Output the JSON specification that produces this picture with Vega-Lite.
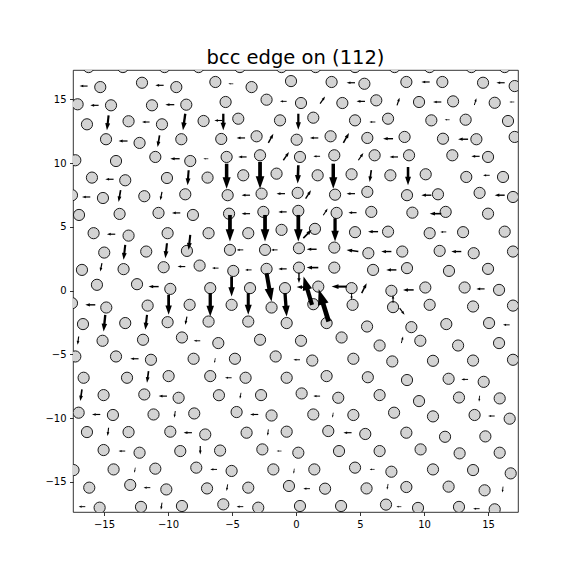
{
"$schema": "https://vega.github.io/schema/vega-lite/v6.json",
"width": 445, "height": 442,
"autosize": {"type": "none"},
"padding": {"left": 73, "top": 70, "right": 58, "bottom": 64},
"background": "white",
"config": {"view": {"stroke": "black", "strokeWidth": 0.8}},
"title": {"text": "bcc edge on (112)", "font": "DejaVu Sans", "fontSize": 19.5, "fontWeight": "normal", "color": "black", "frame": "group", "anchor": "middle", "offset": -13, "baseline": "alphabetic"},
"datasets": {
"atoms": [
{"x":-16.20,"y":17.53},{"x":-13.52,"y":17.53},{"x":-10.27,"y":17.53},{"x":-7.61,"y":17.53},{"x":-4.38,"y":17.53},{"x":-1.13,"y":17.53},{"x":1.53,"y":17.53},{"x":4.61,"y":17.53},{"x":7.70,"y":17.53},{"x":10.44,"y":17.53},{"x":13.70,"y":17.53},{"x":16.30,"y":17.53},
{"x":-15.29,"y":15.96},{"x":-12.03,"y":16.30},{"x":-9.35,"y":15.96},{"x":-6.30,"y":16.36},{"x":-3.47,"y":15.96},{"x":-0.39,"y":16.43},{"x":2.78,"y":16.36},{"x":5.34,"y":16.22},{"x":8.62,"y":16.36},{"x":11.43,"y":16.36},{"x":14.61,"y":16.30},{"x":17.08,"y":16.04},
{"x":-17.06,"y":14.61},{"x":-14.45,"y":14.53},{"x":-11.25,"y":14.53},{"x":-8.57,"y":14.58},{"x":-5.50,"y":14.79},{"x":-2.30,"y":14.97},{"x":0.39,"y":14.71},{"x":3.62,"y":14.71},{"x":6.27,"y":14.92},{"x":9.61,"y":14.79},{"x":12.27,"y":14.84},{"x":15.52,"y":14.73},
{"x":-16.33,"y":13.04},{"x":-13.08,"y":13.28},{"x":-10.47,"y":13.04},{"x":-7.22,"y":13.30},{"x":-4.51,"y":13.48},{"x":-1.25,"y":13.35},{"x":1.35,"y":13.56},{"x":4.61,"y":13.35},{"x":7.19,"y":13.48},{"x":10.57,"y":13.35},{"x":13.25,"y":13.40},{"x":16.56,"y":13.30},
{"x":-14.84,"y":11.87},{"x":-12.22,"y":11.58},{"x":-8.96,"y":11.87},{"x":-5.84,"y":11.89},{"x":-3.08,"y":12.10},{"x":0.05,"y":11.83},{"x":2.70,"y":12.10},{"x":5.57,"y":11.97},{"x":8.48,"y":12.05},{"x":11.48,"y":11.91},{"x":14.09,"y":11.87},{"x":17.08,"y":12.05},
{"x":-17.24,"y":10.22},{"x":-14.06,"y":10.16},{"x":-10.99,"y":10.48},{"x":-8.26,"y":10.16},{"x":-5.42,"y":10.48},{"x":-2.81,"y":10.61},{"x":0.31,"y":10.48},{"x":2.99,"y":10.61},{"x":6.14,"y":10.61},{"x":8.83,"y":10.61},{"x":12.21,"y":10.61},{"x":15.00,"y":10.48},
{"x":-15.94,"y":8.86},{"x":-13.34,"y":8.65},{"x":-10.08,"y":8.83},{"x":-6.91,"y":8.86},{"x":-4.12,"y":9.04},{"x":-1.52,"y":9.17},{"x":1.69,"y":9.04},{"x":4.34,"y":9.12},{"x":7.37,"y":9.04},{"x":10.13,"y":9.12},{"x":13.30,"y":8.91},{"x":16.17,"y":8.91},
{"x":-17.50,"y":7.48},{"x":-15.08,"y":7.26},{"x":-11.85,"y":7.40},{"x":-8.65,"y":7.55},{"x":-5.34,"y":7.48},{"x":-2.69,"y":7.60},{"x":0.13,"y":7.66},{"x":3.05,"y":7.52},{"x":5.57,"y":7.74},{"x":8.67,"y":7.48},{"x":11.09,"y":7.55},{"x":14.34,"y":7.66},{"x":16.95,"y":7.34},
{"x":-16.95,"y":5.93},{"x":-13.78,"y":6.01},{"x":-10.74,"y":6.09},{"x":-8.05,"y":5.93},{"x":-5.23,"y":6.03},{"x":-2.55,"y":6.17},{"x":0.18,"y":6.25},{"x":3.17,"y":6.09},{"x":5.88,"y":6.17},{"x":9.09,"y":6.11},{"x":11.69,"y":6.17},{"x":15.00,"y":6.03},
{"x":-15.81,"y":4.50},{"x":-13.08,"y":4.31},{"x":-10.03,"y":4.50},{"x":-6.83,"y":4.50},{"x":-3.73,"y":4.50},{"x":-1.13,"y":4.76},{"x":1.48,"y":4.84},{"x":4.61,"y":4.58},{"x":7.19,"y":4.62},{"x":10.44,"y":4.50},{"x":13.05,"y":4.58},{"x":16.30,"y":4.62},
{"x":-14.98,"y":2.98},{"x":-11.70,"y":3.06},{"x":-8.52,"y":3.11},{"x":-5.16,"y":3.19},{"x":-2.42,"y":3.19},{"x":0.23,"y":3.32},{"x":2.99,"y":3.37},{"x":5.65,"y":2.93},{"x":8.30,"y":3.06},{"x":11.22,"y":3.11},{"x":13.88,"y":2.93},{"x":16.95,"y":3.06},
{"x":-16.72,"y":1.62},{"x":-13.47,"y":1.68},{"x":-10.34,"y":1.83},{"x":-7.53,"y":1.96},{"x":-4.90,"y":1.54},{"x":-2.30,"y":1.70},{"x":0.23,"y":1.80},{"x":2.99,"y":1.80},{"x":6.02,"y":1.62},{"x":8.67,"y":1.76},{"x":11.95,"y":1.54},{"x":15.00,"y":1.70},
{"x":-15.55,"y":0.45},{"x":-12.42,"y":0.50},{"x":-9.82,"y":0.13},{"x":-6.70,"y":0.19},{"x":-3.59,"y":0.19},{"x":-0.86,"y":0.19},{"x":1.74,"y":0.31},{"x":4.34,"y":0.19},{"x":7.45,"y":-0.02},{"x":10.10,"y":0.24},{"x":13.17,"y":0.24},{"x":15.86,"y":0.05},
{"x":-17.50,"y":-0.99},{"x":-14.82,"y":-1.33},{"x":-11.59,"y":-1.18},{"x":-8.31,"y":-1.12},{"x":-5.03,"y":-1.12},{"x":-1.91,"y":-1.33},{"x":1.35,"y":-1.07},{"x":4.42,"y":-1.12},{"x":7.58,"y":-1.30},{"x":10.44,"y":-1.12},{"x":13.83,"y":-1.25},{"x":16.95,"y":-1.18},
{"x":-16.64,"y":-2.63},{"x":-13.34,"y":-2.55},{"x":-10.03,"y":-2.48},{"x":-6.83,"y":-2.43},{"x":-3.73,"y":-2.43},{"x":-0.73,"y":-2.55},{"x":2.39,"y":-2.55},{"x":5.55,"y":-2.82},{"x":9.01,"y":-2.87},{"x":11.74,"y":-2.63},{"x":15.08,"y":-2.55},
{"x":-15.11,"y":-3.94},{"x":-11.95,"y":-3.86},{"x":-8.91,"y":-3.68},{"x":-6.07,"y":-4.12},{"x":-2.81,"y":-3.86},{"x":0.39,"y":-3.94},{"x":3.56,"y":-3.68},{"x":6.53,"y":-4.31},{"x":9.71,"y":-3.94},{"x":12.66,"y":-4.31},{"x":15.86,"y":-4.12},
{"x":-17.24,"y":-5.17},{"x":-14.06,"y":-5.17},{"x":-11.33,"y":-5.43},{"x":-8.00,"y":-5.35},{"x":-4.77,"y":-5.35},{"x":-1.59,"y":-5.17},{"x":1.27,"y":-5.49},{"x":4.48,"y":-5.35},{"x":7.52,"y":-5.56},{"x":10.70,"y":-5.51},{"x":13.83,"y":-5.49},{"x":16.95,"y":-5.43},
{"x":-16.59,"y":-6.84},{"x":-13.20,"y":-6.84},{"x":-9.95,"y":-6.71},{"x":-6.70,"y":-6.71},{"x":-3.94,"y":-6.84},{"x":-0.73,"y":-6.84},{"x":2.39,"y":-6.71},{"x":5.61,"y":-6.80},{"x":8.67,"y":-7.02},{"x":11.92,"y":-6.92},{"x":14.66,"y":-7.16},
{"x":-15.03,"y":-8.20},{"x":-11.85,"y":-8.15},{"x":-9.17,"y":-8.41},{"x":-6.02,"y":-8.21},{"x":-2.73,"y":-8.20},{"x":0.44,"y":-8.07},{"x":3.30,"y":-8.41},{"x":6.53,"y":-8.20},{"x":9.61,"y":-8.67},{"x":12.73,"y":-8.39},{"x":15.91,"y":-8.46},
{"x":-16.98,"y":-9.58},{"x":-14.30,"y":-9.76},{"x":-11.13,"y":-9.72},{"x":-7.95,"y":-9.64},{"x":-4.64,"y":-9.53},{"x":-1.91,"y":-9.80},{"x":1.35,"y":-9.72},{"x":4.48,"y":-9.76},{"x":7.66,"y":-9.58},{"x":10.70,"y":-9.87},{"x":13.95,"y":-9.76},{"x":16.69,"y":-10.05},
{"x":-16.33,"y":-11.10},{"x":-13.08,"y":-11.10},{"x":-9.82,"y":-11.07},{"x":-7.09,"y":-11.29},{"x":-3.86,"y":-11.15},{"x":-0.73,"y":-11.07},{"x":2.52,"y":-11.02},{"x":5.41,"y":-11.25},{"x":8.62,"y":-11.15},{"x":11.64,"y":-11.47},{"x":14.79,"y":-11.44},
{"x":-15.03,"y":-12.51},{"x":-12.22,"y":-12.72},{"x":-9.04,"y":-12.59},{"x":-5.93,"y":-12.55},{"x":-2.63,"y":-12.46},{"x":0.18,"y":-12.72},{"x":3.36,"y":-12.59},{"x":6.53,"y":-12.59},{"x":9.73,"y":-12.46},{"x":12.78,"y":-12.77},{"x":15.91,"y":-12.72},
{"x":-17.38,"y":-14.08},{"x":-14.25,"y":-14.03},{"x":-10.99,"y":-13.97},{"x":-7.79,"y":-13.89},{"x":-5.03,"y":-14.15},{"x":-1.77,"y":-14.03},{"x":1.43,"y":-14.03},{"x":4.61,"y":-13.89},{"x":7.45,"y":-14.21},{"x":10.70,"y":-14.03},{"x":13.83,"y":-14.08},{"x":16.77,"y":-14.34},
{"x":-16.15,"y":-15.46},{"x":-12.95,"y":-15.25},{"x":-10.13,"y":-15.60},{"x":-6.95,"y":-15.52},{"x":-3.73,"y":-15.46},{"x":-0.55,"y":-15.33},{"x":2.27,"y":-15.54},{"x":5.51,"y":-15.52},{"x":8.62,"y":-15.41},{"x":11.92,"y":-15.38},{"x":14.73,"y":-15.67},
{"x":-15.34,"y":-17.03},{"x":-12.11,"y":-16.97},{"x":-8.91,"y":-16.90},{"x":-5.68,"y":-16.77},{"x":-2.95,"y":-17.03},{"x":0.31,"y":-16.90},{"x":3.52,"y":-16.90},{"x":7.03,"y":-16.79},{"x":9.53,"y":-17.05},{"x":12.73,"y":-16.97},{"x":15.52,"y":-17.16}
],
"arrows": [
{"x":-16.28,"y":16.04,"x2":-16.91,"y2":16.04},{"x":-10.34,"y":16.10,"x2":-10.99,"y2":16.10},{"x":-15.42,"y":14.53,"x2":-16.07,"y2":14.53},{"x":-9.51,"y":14.58,"x2":-10.21,"y2":14.58},
{"x":-14.64,"y":13.75,"x2":-14.77,"y2":12.57},{"x":-11.44,"y":13.22,"x2":-12.03,"y2":13.22},{"x":-8.65,"y":13.87,"x2":-8.83,"y2":12.57},{"x":-13.16,"y":11.73,"x2":-13.86,"y2":11.73},
{"x":-10.66,"y":12.18,"x2":-10.81,"y2":11.26},{"x":-9.09,"y":10.34,"x2":-9.82,"y2":10.34},{"x":-6.85,"y":10.34,"x2":-7.24,"y2":10.34},{"x":-8.39,"y":9.44,"x2":-8.47,"y2":8.26},
{"x":-14.25,"y":8.73,"x2":-14.90,"y2":8.73},{"x":-13.70,"y":7.87,"x2":-13.86,"y2":6.95},{"x":-10.47,"y":7.74,"x2":-10.60,"y2":7.08},{"x":-16.07,"y":7.34,"x2":-16.72,"y2":7.34},
{"x":-9.04,"y":6.09,"x2":-9.69,"y2":6.09},{"x":-5.76,"y":13.34,"x2":-6.38,"y2":13.34},
{"x":-4.90,"y":16.22,"x2":-5.29,"y2":16.22},{"x":4.61,"y":16.30,"x2":3.95,"y2":16.30},{"x":-0.73,"y":14.84,"x2":-1.25,"y2":14.84},{"x":1.88,"y":14.66,"x2":2.27,"y2":15.23},
{"x":5.39,"y":14.84,"x2":4.73,"y2":14.84},{"x":-5.68,"y":13.87,"x2":-5.68,"y2":12.57},{"x":0.18,"y":13.87,"x2":0.18,"y2":12.62},{"x":-3.98,"y":11.97,"x2":-4.64,"y2":11.97},
{"x":-2.16,"y":11.58,"x2":-1.77,"y2":12.30},{"x":1.74,"y":11.97,"x2":1.09,"y2":11.97},{"x":3.70,"y":11.58,"x2":4.14,"y2":12.36},{"x":-3.86,"y":10.48,"x2":-4.51,"y2":10.48},
{"x":-0.99,"y":10.22,"x2":-0.55,"y2":10.87},{"x":1.88,"y":10.53,"x2":1.35,"y2":10.53},{"x":4.87,"y":10.22,"x2":5.26,"y2":10.79},{"x":-5.42,"y":9.95,"x2":-5.42,"y2":7.99},
{"x":-2.81,"y":10.09,"x2":-2.81,"y2":7.99},{"x":0.18,"y":9.83,"x2":0.13,"y2":8.39},{"x":2.91,"y":9.95,"x2":2.91,"y2":7.99},{"x":-3.59,"y":7.48,"x2":-4.25,"y2":7.48},
{"x":-0.86,"y":7.60,"x2":-1.52,"y2":7.60},{"x":0.75,"y":7.21,"x2":1.17,"y2":7.87},{"x":4.61,"y":7.60,"x2":3.95,"y2":7.60},{"x":-3.59,"y":6.03,"x2":-4.25,"y2":6.03},
{"x":-0.73,"y":6.17,"x2":-1.38,"y2":6.17},{"x":2.13,"y":5.91,"x2":2.47,"y2":6.43},{"x":4.73,"y":6.11,"x2":4.09,"y2":6.11},
{"x":10.44,"y":16.36,"x2":9.79,"y2":16.36},{"x":16.30,"y":16.30,"x2":15.65,"y2":16.30},{"x":7.89,"y":14.53,"x2":8.09,"y2":15.13},{"x":11.35,"y":14.79,"x2":10.70,"y2":14.79},
{"x":13.93,"y":14.55,"x2":14.09,"y2":15.08},{"x":17.05,"y":14.79,"x2":16.66,"y2":14.79},{"x":12.00,"y":13.40,"x2":11.61,"y2":13.40},{"x":7.58,"y":11.91,"x2":6.80,"y2":11.91},
{"x":13.44,"y":11.87,"x2":12.66,"y2":11.87},{"x":7.97,"y":10.48,"x2":7.31,"y2":10.48},{"x":14.34,"y":10.53,"x2":13.70,"y2":10.53},{"x":5.88,"y":9.44,"x2":5.75,"y2":8.52},
{"x":8.75,"y":9.69,"x2":8.75,"y2":8.26},{"x":15.13,"y":9.04,"x2":14.61,"y2":9.04},{"x":10.57,"y":7.48,"x2":9.79,"y2":7.48},{"x":16.30,"y":7.48,"x2":15.52,"y2":7.48},
{"x":11.35,"y":6.03,"x2":10.44,"y2":6.03},{"x":6.20,"y":13.22,"x2":5.73,"y2":13.22},
{"x":-14.12,"y":4.42,"x2":-14.77,"y2":4.42},{"x":-10.08,"y":3.71,"x2":-10.21,"y2":2.54},{"x":-8.26,"y":4.37,"x2":-8.39,"y2":3.19},{"x":-13.34,"y":3.58,"x2":-13.47,"y2":2.41},
{"x":-15.16,"y":2.15,"x2":-15.29,"y2":1.49},{"x":-8.65,"y":1.88,"x2":-9.25,"y2":1.88},{"x":-6.05,"y":1.76,"x2":-6.56,"y2":1.76},{"x":-10.73,"y":0.31,"x2":-11.52,"y2":0.31},
{"x":-9.95,"y":-0.34,"x2":-9.95,"y2":-1.90},{"x":-6.70,"y":-0.20,"x2":-6.70,"y2":-2.04},{"x":-15.68,"y":-1.12,"x2":-16.46,"y2":-1.12},{"x":-14.90,"y":-1.90,"x2":-15.03,"y2":-3.21},
{"x":-11.64,"y":-1.90,"x2":-11.77,"y2":-3.08},{"x":-8.52,"y":-2.04,"x2":-8.65,"y2":-2.69},{"x":-16.98,"y":-3.60,"x2":-17.06,"y2":-4.26},{"x":-7.48,"y":-3.94,"x2":-8.00,"y2":-3.94},
{"x":-12.30,"y":-5.35,"x2":-12.95,"y2":-5.35},{"x":-6.30,"y":-5.30,"x2":-6.38,"y2":-5.69},
{"x":-5.16,"y":5.93,"x2":-5.16,"y2":3.84},{"x":-2.42,"y":5.93,"x2":-2.42,"y2":3.84},{"x":0.18,"y":5.93,"x2":0.18,"y2":3.84},{"x":3.05,"y":5.67,"x2":3.05,"y2":3.84},
{"x":0.57,"y":4.11,"x2":1.22,"y2":4.76},{"x":-4.12,"y":3.19,"x2":-4.64,"y2":3.19},{"x":-1.44,"y":3.19,"x2":-1.95,"y2":3.19},{"x":1.61,"y":3.24,"x2":0.83,"y2":3.24},
{"x":4.87,"y":3.06,"x2":3.95,"y2":3.19},{"x":-3.47,"y":1.62,"x2":-3.98,"y2":1.62},{"x":-0.73,"y":1.70,"x2":-1.38,"y2":1.70},{"x":1.74,"y":1.80,"x2":0.83,"y2":1.80},
{"x":-5.03,"y":1.10,"x2":-5.03,"y2":-0.47},{"x":-2.30,"y":1.36,"x2":-1.91,"y2":-0.86},{"x":0.23,"y":1.39,"x2":0.23,"y2":0.60},{"x":-3.73,"y":-0.20,"x2":-3.73,"y2":-1.90},
{"x":-0.86,"y":-0.20,"x2":-0.73,"y2":-2.04},{"x":1.25,"y":-1.12,"x2":0.59,"y2":1.10},{"x":2.55,"y":-2.43,"x2":1.77,"y2":0.11},{"x":0.96,"y":0.27,"x2":0.05,"y2":0.27},
{"x":3.95,"y":0.31,"x2":2.78,"y2":0.31},{"x":5.13,"y":-0.20,"x2":5.52,"y2":0.58},{"x":4.34,"y":-0.18,"x2":4.34,"y2":-0.73},{"x":0.31,"y":-5.43,"x2":-0.21,"y2":-5.43},
{"x":6.41,"y":4.62,"x2":5.63,"y2":4.62},{"x":11.74,"y":4.60,"x2":11.27,"y2":4.60},{"x":7.45,"y":3.06,"x2":6.66,"y2":3.06},{"x":12.91,"y":3.06,"x2":12.13,"y2":3.06},
{"x":7.84,"y":1.62,"x2":7.05,"y2":1.62},{"x":9.19,"y":0.05,"x2":8.36,"y2":0.05},{"x":14.73,"y":0.13,"x2":14.09,"y2":0.13},{"x":7.58,"y":-0.96,"x2":7.58,"y2":-0.34},
{"x":8.09,"y":-1.38,"x2":8.48,"y2":-1.90},{"x":16.69,"y":-2.69,"x2":16.17,"y2":-2.69},{"x":8.23,"y":-4.12,"x2":8.36,"y2":-3.60},
{"x":-11.52,"y":-6.32,"x2":-11.64,"y2":-7.23},{"x":-16.72,"y":-7.76,"x2":-16.85,"y2":-8.67},{"x":-10.08,"y":-8.28,"x2":-10.73,"y2":-8.28},{"x":-15.29,"y":-9.72,"x2":-15.94,"y2":-9.72},
{"x":-9.43,"y":-9.45,"x2":-9.51,"y2":-9.98},{"x":-14.64,"y":-10.76,"x2":-14.72,"y2":-11.41},{"x":-8.13,"y":-11.15,"x2":-8.78,"y2":-11.15},{"x":-13.34,"y":-12.59,"x2":-13.86,"y2":-12.59},
{"x":-7.48,"y":-12.19,"x2":-7.48,"y2":-12.85},{"x":-6.17,"y":-14.03,"x2":-6.70,"y2":-14.03},{"x":-12.55,"y":-13.89,"x2":-12.63,"y2":-14.29},{"x":-11.38,"y":-15.46,"x2":-11.91,"y2":-15.46},
{"x":-16.46,"y":-16.95,"x2":-16.98,"y2":-16.95},{"x":-10.47,"y":-16.64,"x2":-10.55,"y2":-17.19},
{"x":-5.03,"y":-6.84,"x2":-5.55,"y2":-6.84},{"x":-4.30,"y":-8.02,"x2":-4.38,"y2":-8.49},{"x":1.88,"y":-8.28,"x2":1.35,"y2":-8.28},{"x":-2.95,"y":-9.72,"x2":-3.59,"y2":-9.72},
{"x":2.91,"y":-9.58,"x2":2.84,"y2":-9.98},{"x":-2.16,"y":-10.89,"x2":-2.22,"y2":-11.39},{"x":4.34,"y":-11.15,"x2":3.70,"y2":-11.15},{"x":-1.13,"y":-12.59,"x2":-1.52,"y2":-12.59},
{"x":-0.13,"y":-13.97,"x2":-0.19,"y2":-14.36},{"x":-5.34,"y":-15.20,"x2":-5.42,"y2":-15.72},{"x":1.09,"y":-15.54,"x2":0.57,"y2":-15.54},{"x":-4.12,"y":-16.95,"x2":-4.64,"y2":-16.95},
{"x":13.44,"y":-6.97,"x2":12.91,"y2":-6.97},{"x":14.34,"y":-8.25,"x2":14.30,"y2":-8.72},{"x":15.52,"y":-9.84,"x2":15.00,"y2":-9.84},{"x":6.14,"y":-14.03,"x2":5.75,"y2":-14.03},
{"x":7.19,"y":-15.17,"x2":7.11,"y2":-15.62},{"x":16.17,"y":-15.38,"x2":16.12,"y2":-15.85},{"x":8.23,"y":-16.95,"x2":7.84,"y2":-16.95},{"x":14.34,"y":-17.11,"x2":13.83,"y2":-17.11}
]
},
"layer": [
{
"data": {"name": "atoms"},
"mark": {"type": "point", "shape": "circle", "filled": true, "fill": "#d3d3d3", "stroke": "#1a1a1a", "strokeWidth": 1, "size": 125, "opacity": 1, "clip": true},
"encoding": {
"x": {"field": "x", "type": "quantitative", "scale": {"domain": [-17.42, 17.34], "nice": false, "zero": false}, "axis": {"values": [-15, -10, -5, 0, 5, 10, 15], "title": null, "grid": false, "domain": false, "tickSize": 3.5, "tickWidth": 0.8, "tickColor": "black", "labelFont": "DejaVu Sans", "labelFontSize": 10, "labelColor": "black", "labelPadding": 3.5, "labelFlush": false, "labelOverlap": false}},
"y": {"field": "y", "type": "quantitative", "scale": {"domain": [-17.37, 17.30], "nice": false, "zero": false}, "axis": {"values": [-15, -10, -5, 0, 5, 10, 15], "title": null, "grid": false, "domain": false, "tickSize": 3.5, "tickWidth": 0.8, "tickColor": "black", "labelFont": "DejaVu Sans", "labelFontSize": 10, "labelColor": "black", "labelPadding": 3.5, "labelFlush": false, "labelOverlap": false}}
}
},
{
"data": {"name": "arrows"},
"transform": [
{"calculate": "datum.x2-datum.x", "as": "dx"},
{"calculate": "datum.y2-datum.y", "as": "dy"},
{"calculate": "sqrt(datum.dx*datum.dx+datum.dy*datum.dy)*12.8", "as": "Lpx"},
{"calculate": "datum.x+0.6*datum.dx", "as": "xs"},
{"calculate": "datum.y+0.6*datum.dy", "as": "ys"},
{"calculate": "0.14*datum.Lpx", "as": "sw"}
],
"mark": {"type": "rule", "color": "black", "clip": true},
"encoding": {
"x": {"field": "x", "type": "quantitative"},
"y": {"field": "y", "type": "quantitative"},
"x2": {"field": "xs"},
"y2": {"field": "ys"},
"strokeWidth": {"field": "sw", "type": "quantitative", "scale": null}
}
},
{
"data": {"name": "arrows"},
"transform": [
{"calculate": "datum.x2-datum.x", "as": "dx"},
{"calculate": "datum.y2-datum.y", "as": "dy"},
{"calculate": "sqrt(datum.dx*datum.dx+datum.dy*datum.dy)*12.8", "as": "Lpx"},
{"calculate": "atan2(datum.dx,datum.dy)*180/PI", "as": "ang"},
{"calculate": "pow(0.46*datum.Lpx,2)", "as": "hs"}
],
"mark": {"type": "point", "shape": "M0,0L-0.7,2L0.7,2Z", "filled": true, "fill": "black", "strokeWidth": 0, "opacity": 1, "clip": true},
"encoding": {
"x": {"field": "x2", "type": "quantitative"},
"y": {"field": "y2", "type": "quantitative"},
"angle": {"field": "ang", "type": "quantitative", "scale": null},
"size": {"field": "hs", "type": "quantitative", "scale": null}
}
}
]
}
